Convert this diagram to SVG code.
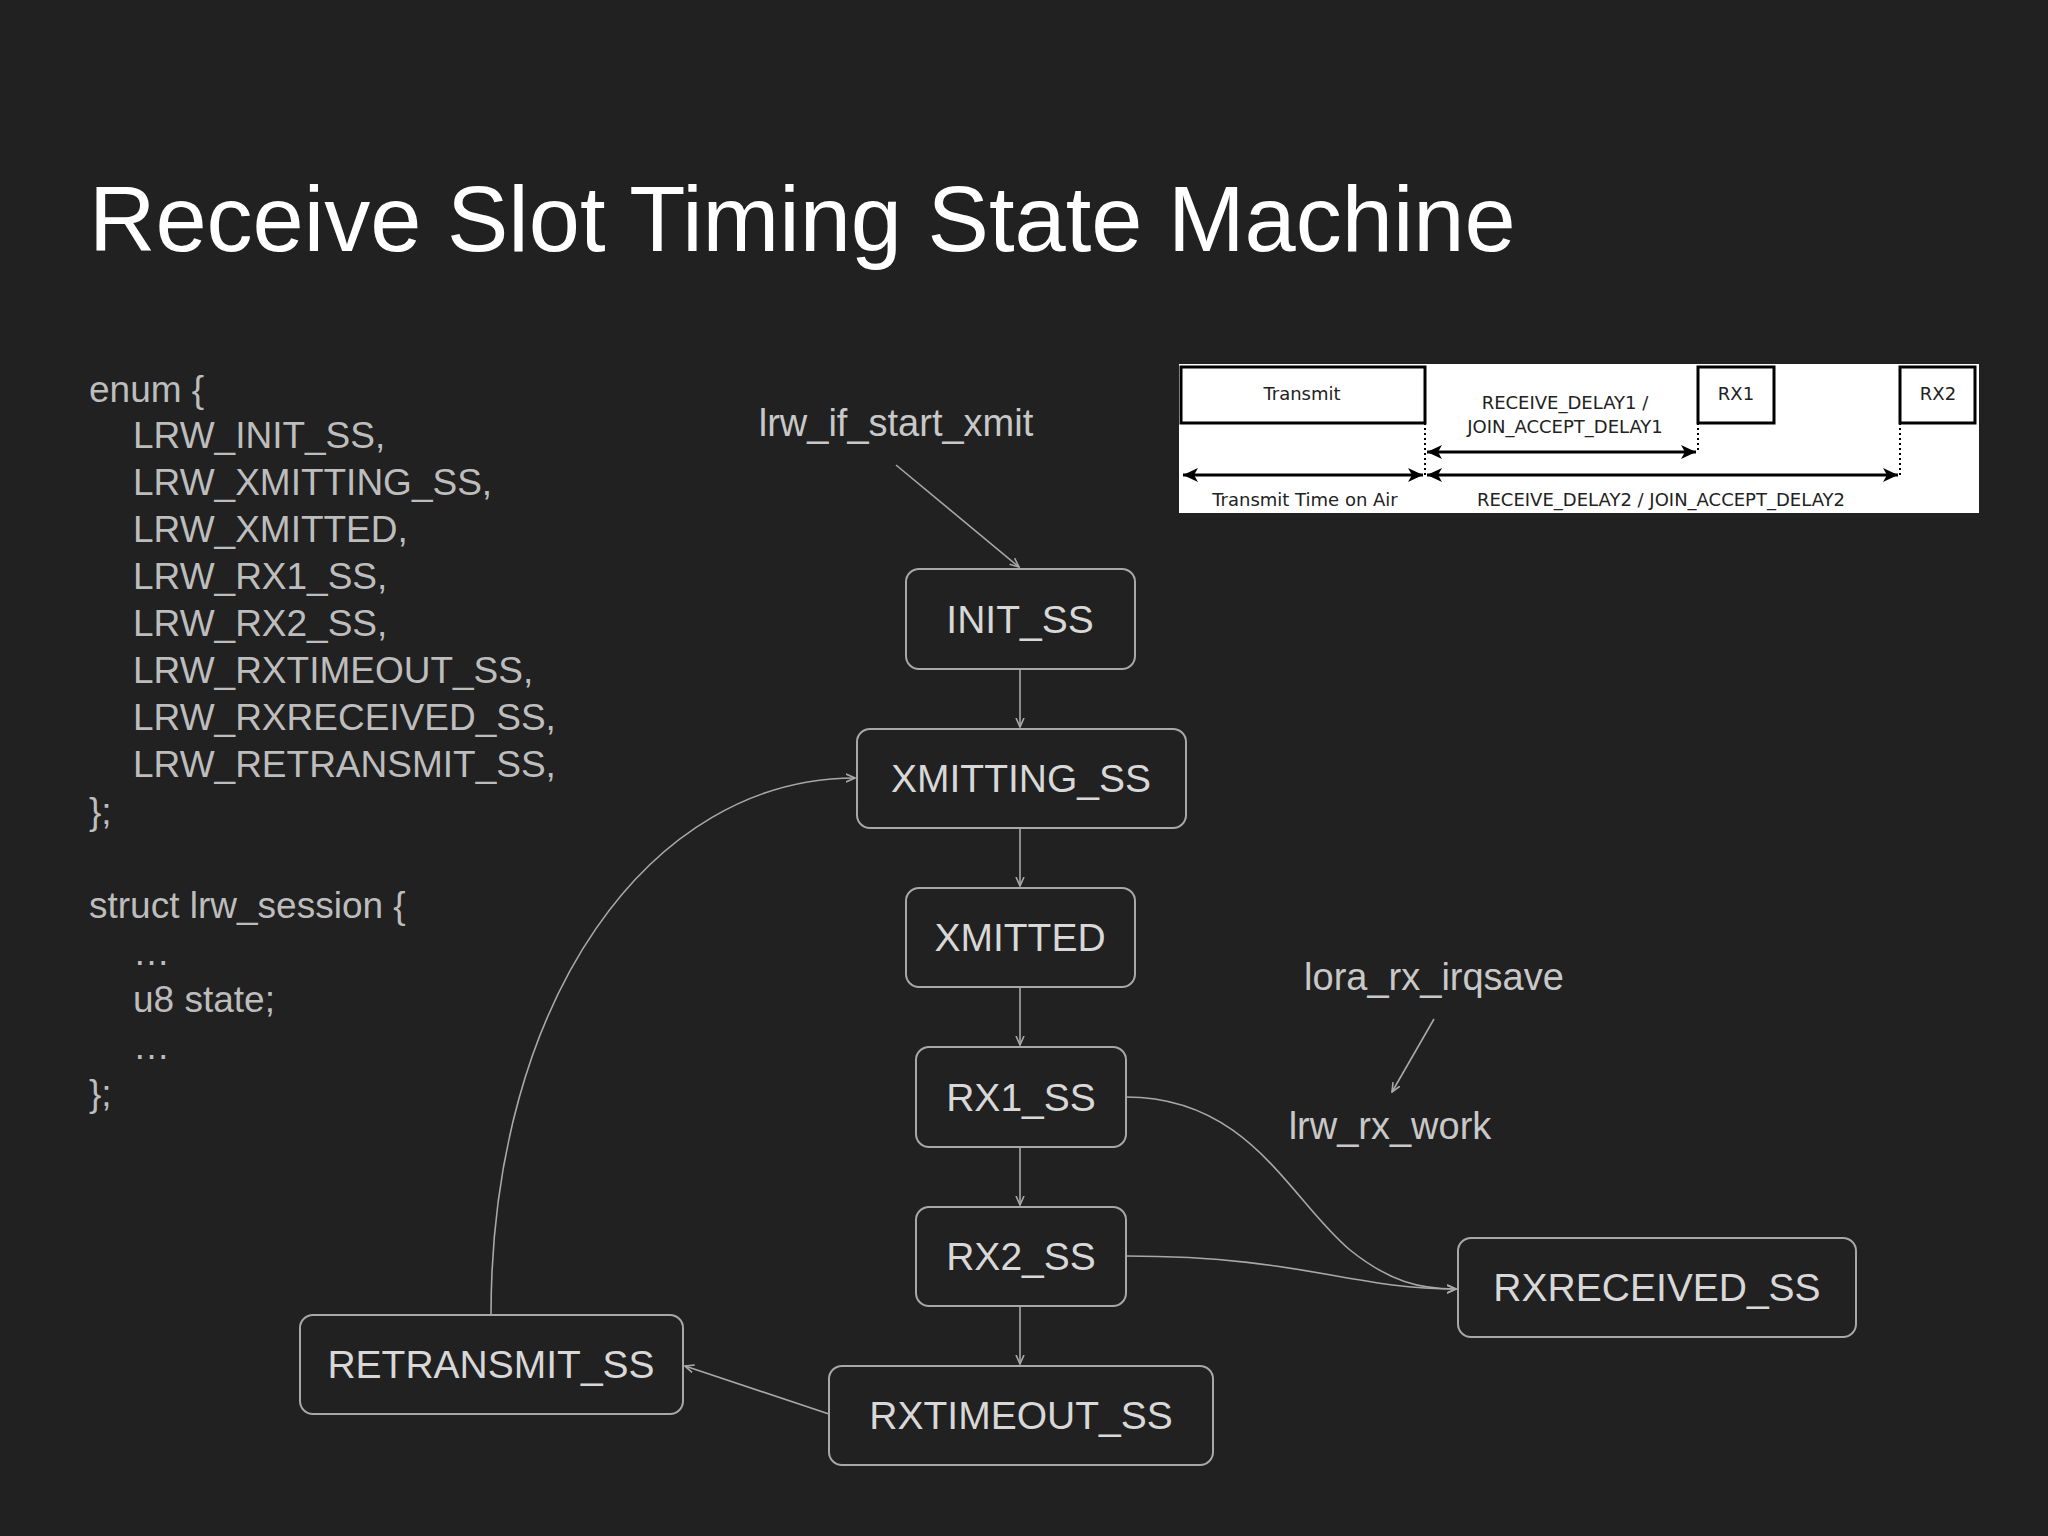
<svg xmlns="http://www.w3.org/2000/svg" width="2048" height="1536" viewBox="0 0 2048 1536">
<defs>
<style>
.t{font-family:"Liberation Sans",Arial,sans-serif}
.code{font-family:"Liberation Sans",Arial,sans-serif;font-size:37px;fill:#bdbdbd}
.node rect{fill:none;stroke:#a8a8a8;stroke-width:2}
.node text{font-family:"Liberation Sans",Arial,sans-serif;font-size:39px;fill:#d8d8d8;text-anchor:middle}
.lbl{font-family:"Liberation Sans",Arial,sans-serif;font-size:38px;fill:#c8c8c8;text-anchor:middle}
.c{fill:none;stroke:#a8a8a8;stroke-width:1.6}
.tm{font-family:"DejaVu Sans",sans-serif;font-size:18px;fill:#222;text-anchor:middle}
.bk{fill:none;stroke:#000;stroke-width:3}
.dot{stroke:#000;stroke-width:2;stroke-dasharray:2 3}
</style>
<marker id="a" markerWidth="10" markerHeight="10" refX="9" refY="5" orient="auto" markerUnits="userSpaceOnUse"><path d="M0,1 L9,5 L0,9" fill="none" stroke="#a8a8a8" stroke-width="1.6"/></marker>
<marker id="b" markerWidth="16" markerHeight="16" refX="15" refY="8" orient="auto-start-reverse" markerUnits="userSpaceOnUse"><path d="M0,1 L15,8 L0,15 L4,8 Z" fill="#000"/></marker>
</defs>
<rect width="2048" height="1536" fill="#212121"/>
<text class="t" x="89" y="251" font-size="92" fill="#ffffff">Receive Slot Timing State Machine</text>
<g id="code" class="code">
<text x="89" y="402">enum {</text>
<text x="133" y="448">LRW_INIT_SS,</text>
<text x="133" y="495">LRW_XMITTING_SS,</text>
<text x="133" y="542">LRW_XMITTED,</text>
<text x="133" y="589">LRW_RX1_SS,</text>
<text x="133" y="636">LRW_RX2_SS,</text>
<text x="133" y="683">LRW_RXTIMEOUT_SS,</text>
<text x="133" y="730">LRW_RXRECEIVED_SS,</text>
<text x="133" y="777">LRW_RETRANSMIT_SS,</text>
<text x="89" y="824">};</text>
<text x="89" y="918">struct lrw_session {</text>
<text x="133" y="965">…</text>
<text x="133" y="1012">u8 state;</text>
<text x="133" y="1059">…</text>
<text x="89" y="1106">};</text>
</g>
<g id="timing">
<rect x="1179" y="364" width="800" height="149" fill="#ffffff"/>
<rect x="1181" y="367" width="244" height="56" class="bk"/>
<rect x="1698" y="367" width="76" height="56" class="bk"/>
<rect x="1900" y="367" width="75" height="56" class="bk"/>
<line x1="1425" y1="423" x2="1425" y2="475" class="dot"/>
<line x1="1698" y1="423" x2="1698" y2="452" class="dot"/>
<line x1="1900" y1="423" x2="1900" y2="475" class="dot"/>
<line x1="1427" y1="452" x2="1696" y2="452" stroke="#000" stroke-width="3" marker-start="url(#b)" marker-end="url(#b)"/>
<line x1="1183" y1="475" x2="1423" y2="475" stroke="#000" stroke-width="3" marker-start="url(#b)" marker-end="url(#b)"/>
<line x1="1427" y1="475" x2="1898" y2="475" stroke="#000" stroke-width="3" marker-start="url(#b)" marker-end="url(#b)"/>
<text class="tm" x="1302" y="400">Transmit</text>
<text class="tm" x="1565" y="409">RECEIVE_DELAY1 /</text>
<text class="tm" x="1565" y="433">JOIN_ACCEPT_DELAY1</text>
<text class="tm" x="1736" y="400">RX1</text>
<text class="tm" x="1938" y="400">RX2</text>
<text class="tm" x="1305" y="506">Transmit Time on Air</text>
<text class="tm" x="1661" y="506">RECEIVE_DELAY2 / JOIN_ACCEPT_DELAY2</text>
</g>
<g id="labels">
<text class="lbl" x="896" y="436">lrw_if_start_xmit</text>
<text class="lbl" x="1434" y="990">lora_rx_irqsave</text>
<text class="lbl" x="1390" y="1139">lrw_rx_work</text>
</g>
<g id="connectors">
<line class="c" x1="896" y1="465" x2="1019" y2="567" marker-end="url(#a)"/>
<line class="c" x1="1434" y1="1019" x2="1392" y2="1092" marker-end="url(#a)"/>
<line class="c" x1="1020" y1="669" x2="1020" y2="727" marker-end="url(#a)"/>
<line class="c" x1="1020" y1="828" x2="1020" y2="886" marker-end="url(#a)"/>
<line class="c" x1="1020" y1="987" x2="1020" y2="1045" marker-end="url(#a)"/>
<line class="c" x1="1020" y1="1147" x2="1020" y2="1205" marker-end="url(#a)"/>
<line class="c" x1="1020" y1="1306" x2="1020" y2="1364" marker-end="url(#a)"/>
<path class="c" d="M1126,1097 C1250,1097 1290,1200 1350,1250 C1390,1282 1420,1289 1456,1289" marker-end="url(#a)"/>
<path class="c" d="M1126,1256 C1300,1256 1350,1289 1456,1289" marker-end="url(#a)"/>
<line class="c" x1="829" y1="1414" x2="685" y2="1366" marker-end="url(#a)"/>
<path class="c" d="M491,1315 C491,1000 650,778 855,778" marker-end="url(#a)"/>
</g>
<g id="INIT_SS" class="node"><rect x="906" y="569" width="229" height="100" rx="13"/><text x="1020" y="633">INIT_SS</text></g>
<g id="XMITTING_SS" class="node"><rect x="857" y="729" width="329" height="99" rx="13"/><text x="1021" y="792">XMITTING_SS</text></g>
<g id="XMITTED" class="node"><rect x="906" y="888" width="229" height="99" rx="13"/><text x="1020" y="951">XMITTED</text></g>
<g id="RX1_SS" class="node"><rect x="916" y="1047" width="210" height="100" rx="13"/><text x="1021" y="1111">RX1_SS</text></g>
<g id="RX2_SS" class="node"><rect x="916" y="1207" width="210" height="99" rx="13"/><text x="1021" y="1270">RX2_SS</text></g>
<g id="RXTIMEOUT_SS" class="node"><rect x="829" y="1366" width="384" height="99" rx="13"/><text x="1021" y="1429">RXTIMEOUT_SS</text></g>
<g id="RETRANSMIT_SS" class="node"><rect x="300" y="1315" width="383" height="99" rx="13"/><text x="491" y="1378">RETRANSMIT_SS</text></g>
<g id="RXRECEIVED_SS" class="node"><rect x="1458" y="1238" width="398" height="99" rx="13"/><text x="1657" y="1301">RXRECEIVED_SS</text></g>
</svg>
